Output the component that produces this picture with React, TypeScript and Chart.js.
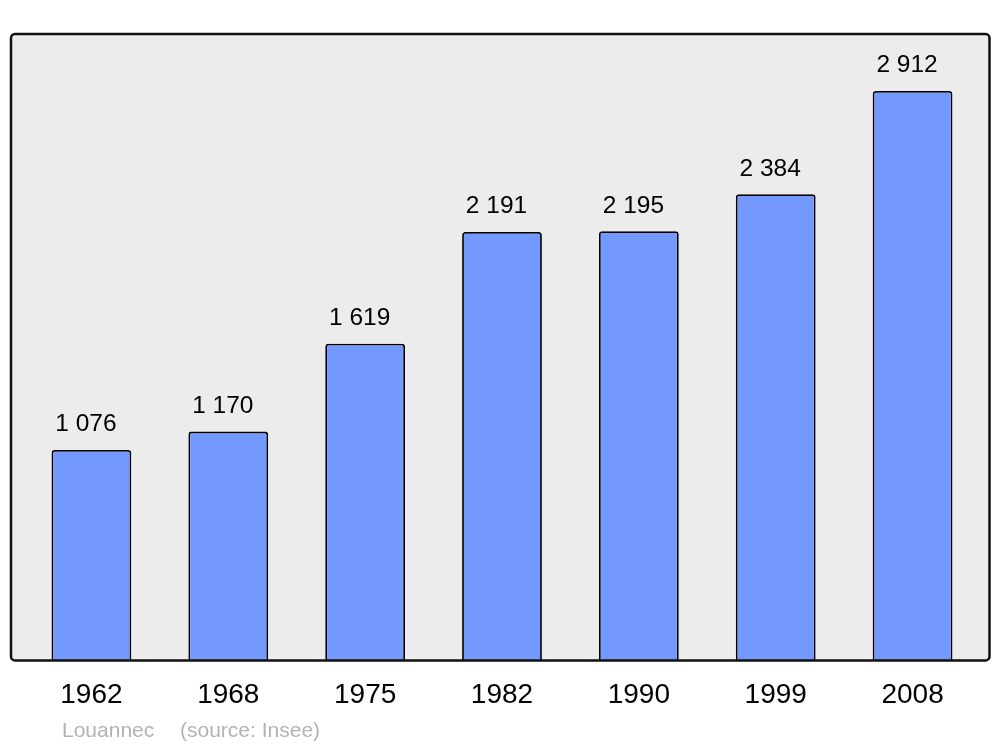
import React, { useEffect, useRef } from "react";
import { Chart, registerables } from "chart.js";

Chart.register(...registerables);

const years = ["1962", "1968", "1975", "1982", "1990", "1999", "2008"];
const population = [1076, 1170, 1619, 2191, 2195, 2384, 2912];
const townName = "Louannec";
const sourceText = "(source: Insee)";

const FONT = "'Liberation Sans', Arial, sans-serif";

const fmt = (v: number) => String(v).replace(/\B(?=(\d{3})+(?!\d))/g, " ");

const framePlugin = {
  id: "frame",
  beforeDatasetsDraw(chart: any) {
    const { ctx, chartArea } = chart;
    const l = chartArea.left - 12, r = chartArea.right + 8.5;
    const t = chartArea.top, b = chartArea.bottom;
    ctx.save();
    ctx.beginPath();
    ctx.roundRect(l, t, r - l, b - t, 4);
    ctx.fillStyle = "#ececec";
    ctx.fill();
    ctx.restore();
  },
  afterDatasetsDraw(chart: any) {
    const { ctx, chartArea } = chart;
    const l = chartArea.left - 12, r = chartArea.right + 8.5;
    const t = chartArea.top, b = chartArea.bottom;
    ctx.save();
    // value labels
    const meta = chart.getDatasetMeta(0);
    ctx.fillStyle = "#000";
    ctx.font = `24.5px ${FONT}`;
    ctx.textAlign = "center";
    ctx.textBaseline = "alphabetic";
    meta.data.forEach((el: any, i: number) => {
      ctx.fillText(fmt(population[i]), el.x - 5.5, el.y - 18.5);
    });
    // frame stroke
    ctx.beginPath();
    ctx.roundRect(l, t, r - l, b - t, 4);
    ctx.lineWidth = 2.5;
    ctx.strokeStyle = "#111";
    ctx.stroke();
    // source text
    ctx.font = `21px ${FONT}`;
    ctx.fillStyle = "#b3b3b3";
    ctx.textAlign = "left";
    ctx.fillText(townName, 62, 737);
    ctx.fillText(sourceText, 180, 737);
    ctx.restore();
  },
};

export default function App() {
  const ref = useRef<HTMLCanvasElement>(null);
  useEffect(() => {
    if (!ref.current) return;
    const chart = new Chart(ref.current, {
      type: "bar",
      data: {
        labels: years,
        datasets: [
          {
            data: population,
            backgroundColor: "rgb(115,153,255)",
            borderColor: "#000",
            borderWidth: 1.8,
            borderRadius: 3,
            borderSkipped: "bottom",
            barPercentage: 0.583,
            categoryPercentage: 1,
          },
        ],
      },
      options: {
        responsive: false,
        animation: false,
        layout: { padding: { left: 23, right: 19, top: 34, bottom: 17 } },
        plugins: { legend: { display: false }, tooltip: { enabled: false }, title: { display: false } },
        scales: {
          x: {
            grid: { display: false, drawTicks: false },
            border: { display: false },
            ticks: { color: "#000", font: { size: 28, family: FONT }, padding: 18 },
          },
          y: {
            display: false,
            min: 0,
            max: Math.max(...population) * 1.1,
          },
        },
      },
      plugins: [framePlugin],
    });
    return () => chart.destroy();
  }, []);
  return (
    <canvas
      ref={ref}
      width={1000}
      height={747}
      style={{ position: "absolute", left: 0, top: 0, display: "block", background: "#fff" }}
    />
  );
}
